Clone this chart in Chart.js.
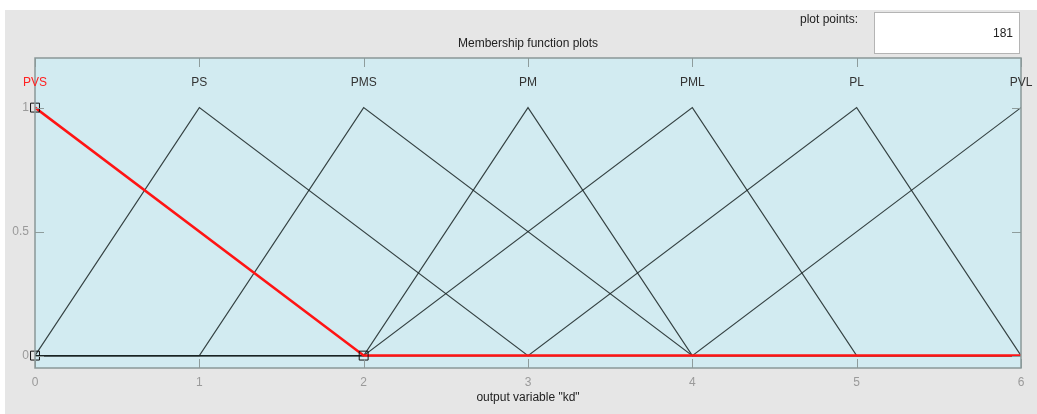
<!DOCTYPE html>
<html>
<head>
<meta charset="utf-8">
<script src="https://cdn.jsdelivr.net/npm/chart.js@4.4.0/dist/chart.umd.min.js"></script>
<style>
  html, body { margin: 0; padding: 0; background: #fff; }
  #wrap { width: 1037px; height: 414px; position: relative; }
</style>
</head>
<body>
<div id="wrap"><canvas id="myChart" width="1037" height="414"></canvas></div>
<script>
// membership functions of output variable "kd" (triangular: left foot, peak, right foot)
const mfNames = ['PVS', 'PS', 'PMS', 'PM', 'PML', 'PL', 'PVL'];
const mfLeft  = [0, 0, 1, 2, 2, 3, 4];
const mfPeak  = [0, 1, 2, 3, 4, 5, 6];
const mfRight = [2, 3, 4, 4, 5, 6, 6];
const selectedMf = 0;

const xRange = [0, 6];
const yRange = [-0.05, 1.2];
const xTicks = [0, 1, 2, 3, 4, 5, 6];
const yTicks = [0, 0.5, 1];
const labelLevel = 1.1;
const plotPoints = 181;

const font = "'Liberation Sans', Arial, sans-serif";

function trianglePoints(a, b, c) {
  var pts = [];
  if (a > xRange[0]) pts.push({x: xRange[0], y: 0});
  if (a < b) pts.push({x: a, y: 0});
  pts.push({x: b, y: 1});
  if (c > b) pts.push({x: c, y: 0});
  if (c < xRange[1]) pts.push({x: xRange[1], y: 0});
  return pts;
}

const generateDatasets = () => {
  var list = [];
  for (let i = 0; i < mfNames.length; i++) {
    var sel = i === selectedMf;
    list.push({
      label: mfNames[i],
      data: trianglePoints(mfLeft[i], mfPeak[i], mfRight[i]),
      borderColor: sel ? '#ff1414' : 'rgba(25,35,35,0.85)',
      borderWidth: sel ? 2.5 : 1.1,
      pointRadius: 0,
      tension: 0,
      order: sel ? 0 : 1
    });
  }
  // vertex handles of the selected function
  list.push({
    label: 'handles',
    data: [
      {x: mfLeft[selectedMf], y: 0},
      {x: mfPeak[selectedMf], y: 1},
      {x: mfRight[selectedMf], y: 0}
    ],
    showLine: false,
    pointStyle: 'rect',
    pointRadius: 6.3,
    pointBorderColor: '#111',
    pointBorderWidth: 1,
    pointBackgroundColor: 'rgba(0,0,0,0)',
    clip: false,
    order: -1
  });
  return list;
};

const frame = {
  id: 'frame',
  beforeDraw(chart) {
    const ctx = chart.ctx, a = chart.chartArea;
    ctx.save();
    ctx.fillStyle = '#ffffff';
    ctx.fillRect(0, 0, chart.width, chart.height);
    ctx.fillStyle = '#e6e6e6';
    ctx.fillRect(5, 10, chart.width - 5, chart.height - 10);
    ctx.fillStyle = '#d2ebf1';
    ctx.fillRect(a.left, a.top, a.right - a.left, a.bottom - a.top);

    // plot points box
    ctx.fillStyle = '#ffffff';
    ctx.fillRect(874, 12, 145, 41);
    ctx.strokeStyle = '#b4b4b4';
    ctx.lineWidth = 1;
    ctx.strokeRect(874.5, 12.5, 145, 41);
    ctx.fillStyle = '#222';
    ctx.font = '12px ' + font;
    ctx.textBaseline = 'middle';
    ctx.textAlign = 'right';
    ctx.fillText('plot points:', 858, 20);
    ctx.fillText(String(plotPoints), 1013, 34);
    ctx.restore();
  },
  afterDatasetsDraw(chart) {
    const ctx = chart.ctx, a = chart.chartArea;
    const xs = chart.scales.x, ys = chart.scales.y;
    ctx.save();
    ctx.strokeStyle = '#8e9c9c';
    ctx.lineWidth = 1;
    ctx.beginPath();
    xs.ticks.forEach(t => {
      const px = Math.round(xs.getPixelForValue(t.value)) + 0.5;
      ctx.moveTo(px, a.bottom); ctx.lineTo(px, a.bottom - 9);
      ctx.moveTo(px, a.top); ctx.lineTo(px, a.top + 9);
    });
    ys.ticks.forEach(t => {
      const py = Math.round(ys.getPixelForValue(t.value)) + 0.5;
      ctx.moveTo(a.left, py); ctx.lineTo(a.left + 9, py);
      ctx.moveTo(a.right, py); ctx.lineTo(a.right - 9, py);
    });
    ctx.stroke();
    ctx.lineWidth = 1.5;
    ctx.strokeStyle = '#8a9898';
    ctx.strokeRect(a.left, a.top, a.right - a.left, a.bottom - a.top);

    // function names above each peak
    ctx.font = '12px ' + font;
    ctx.textAlign = 'center';
    ctx.textBaseline = 'middle';
    for (let i = 0; i < mfNames.length; i++) {
      ctx.fillStyle = i === selectedMf ? '#ff2020' : '#333';
      ctx.fillText(mfNames[i], xs.getPixelForValue(mfPeak[i]), ys.getPixelForValue(labelLevel));
    }
    ctx.restore();
  }
};

var ctx = document.getElementById('myChart').getContext('2d');
var myChart = new Chart(ctx, {
  type: 'line',
  data: { datasets: generateDatasets() },
  plugins: [frame],
  options: {
    responsive: false,
    animation: false,
    layout: { padding: { left: 0, right: 16, top: 0, bottom: 0 } },
    plugins: {
      legend: { display: false },
      tooltip: { enabled: false },
      title: {
        display: true,
        text: 'Membership function plots',
        color: '#222',
        fullSize: false,
        font: { family: font, size: 12, weight: 'normal', lineHeight: 1.2 },
        padding: { top: 36.8, bottom: 6.8 }
      }
    },
    scales: {
      x: {
        type: 'linear',
        min: xRange[0],
        max: xRange[1],
        afterBuildTicks: s => { s.ticks = xTicks.map(v => ({value: v})); },
        afterFit: s => { s.height = 46; },
        grid: { display: false, drawTicks: false },
        border: { display: false },
        ticks: { color: '#9a9a9a', padding: 7, font: { family: font, size: 12 }, maxRotation: 0,
                 callback: v => String(v) },
        title: {
          display: true,
          text: 'output variable "kd"',
          color: '#222',
          font: { family: font, size: 12, lineHeight: 1.2 },
          padding: { top: 0, bottom: 9.3 }
        }
      },
      y: {
        type: 'linear',
        min: yRange[0],
        max: yRange[1],
        afterBuildTicks: s => { s.ticks = yTicks.map(v => ({value: v})); },
        afterFit: s => { s.width = 35; },
        grid: { display: false, drawTicks: false },
        border: { display: false },
        ticks: { color: '#9a9a9a', padding: 6, font: { family: font, size: 12 },
                 callback: v => String(v) }
      }
    }
  }
});
</script>
</body>
</html>
